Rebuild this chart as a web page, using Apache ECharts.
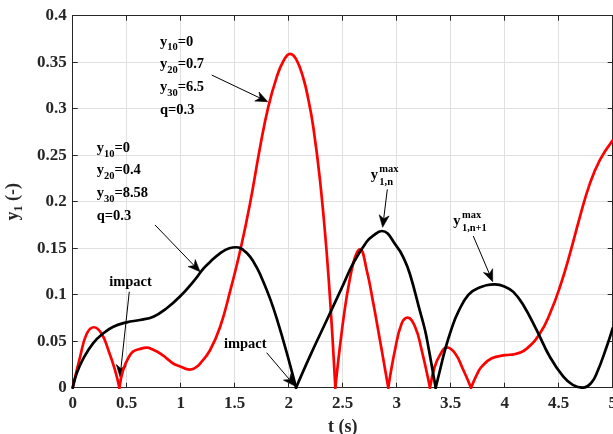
<!DOCTYPE html>
<html>
<head>
<meta charset="utf-8">
<script src="https://cdn.jsdelivr.net/npm/echarts@6/dist/echarts.min.js"></script>
<style>
  html, body { margin: 0; padding: 0; background: #ffffff; }
  #main { width: 613px; height: 434px; }
</style>
</head>
<body>
<div id="main"></div>
<script>
// Response y1(t) for two sets of initial conditions
const redT = [0, 0.068, 0.13, 0.197, 0.268, 0.33, 0.392, 0.432, 0.469, 0.52, 0.561, 0.62, 0.685, 0.75, 0.808, 0.87, 0.93, 1.0, 1.08, 1.13, 1.18, 1.27, 1.364, 1.456, 1.556, 1.642, 1.734, 1.811, 1.889, 1.95, 2.012, 2.07, 2.135, 2.18, 2.228, 2.29, 2.352, 2.398, 2.432, 2.475, 2.52, 2.56, 2.60, 2.635, 2.66, 2.722, 2.783, 2.845, 2.922, 2.984, 3.046, 3.101, 3.17, 3.231, 3.308, 3.35, 3.40, 3.463, 3.54, 3.617, 3.688, 3.75, 3.787, 3.88, 4.003, 4.09, 4.204, 4.327, 4.42, 4.512, 4.605, 4.697, 4.79, 4.882, 5.0];
const redY = [0, 0.033, 0.058, 0.065, 0.058, 0.0405, 0.019, 0, 0.02, 0.033, 0.039, 0.0416, 0.043, 0.0405, 0.037, 0.0316, 0.026, 0.0226, 0.0195, 0.021, 0.026, 0.040, 0.065, 0.103, 0.150, 0.198, 0.258, 0.302, 0.334, 0.351, 0.359, 0.353, 0.333, 0.311, 0.280, 0.223, 0.145, 0.068, 0, 0.045, 0.085, 0.113, 0.135, 0.146, 0.149, 0.1266, 0.091, 0.051, 0, 0.0405, 0.069, 0.0753, 0.0656, 0.0405, 0, 0.022, 0.035, 0.0434, 0.037, 0.019, 0, 0.016, 0.0226, 0.0316, 0.035, 0.036, 0.042, 0.0585, 0.08, 0.1086, 0.1445, 0.184, 0.22, 0.245, 0.266];
const redImpacts = [0.432, 2.432, 2.922, 3.308, 3.688];

const blackT = [0, 0.037, 0.099, 0.19, 0.284, 0.376, 0.5, 0.623, 0.747, 0.87, 0.993, 1.117, 1.21, 1.27, 1.364, 1.45, 1.518, 1.58, 1.642, 1.705, 1.765, 1.83, 1.889, 1.981, 2.068, 2.197, 2.352, 2.506, 2.598, 2.722, 2.783, 2.861, 3.0, 3.07, 3.123, 3.216, 3.262, 3.293, 3.361, 3.401, 3.447, 3.509, 3.571, 3.663, 3.756, 3.91, 4.003, 4.08, 4.172, 4.296, 4.419, 4.543, 4.63, 4.722, 4.80, 4.852, 4.944, 5.0];
const blackY = [0, 0.0155, 0.0316, 0.048, 0.0585, 0.0656, 0.0703, 0.0728, 0.0764, 0.0854, 0.098, 0.114, 0.128, 0.135, 0.1445, 0.150, 0.151, 0.148, 0.141, 0.129, 0.114, 0.095, 0.0745, 0.038, 0, 0.034, 0.0725, 0.111, 0.134, 0.157, 0.1635, 0.1685, 0.152, 0.138, 0.122, 0.082, 0.062, 0.044, 0, 0.019, 0.0405, 0.0638, 0.0817, 0.0997, 0.1072, 0.111, 0.1085, 0.103, 0.089, 0.062, 0.033, 0.0118, 0.003, 0, 0.005, 0.0155, 0.044, 0.064];
const blackImpacts = [2.068, 3.361];

// Axis ranges and tick steps
const xRange = [0, 5];
const xStep = 0.5;
const yRange = [0, 0.4];
const yStep = 0.05;

// Annotation texts (anchored in data coordinates)
const paramsA = { at: [0.808, 0.3841], lines: [['y', '10', '=0'], ['y', '20', '=0.7'], ['y', '30', '=6.5'], ['q=0.3']] };
const paramsB = { at: [0.222, 0.270], lines: [['y', '10', '=0'], ['y', '20', '=0.4'], ['y', '30', '=8.58'], ['q=0.3']] };
const impactLabels = [{ text: 'impact', at: [0.535, 0.1132] }, { text: 'impact', at: [1.598, 0.0471] }];
const maxLabels = [{ sup: 'max', sub: '1,n', at: [2.759, 0.2288] }, { sup: 'max', sub: '1,n+1', at: [3.524, 0.1794] }];
const arrows = [
  [[1.287, 0.3362], [1.806, 0.3075]],
  [[0.762, 0.175], [1.179, 0.1247]],
  [[0.524, 0.1032], [0.438, 0.0115]],
  [[1.796, 0.0376], [2.058, 0.0018]],
  [[2.913, 0.2133], [2.870, 0.1725]],
  [[3.709, 0.1631], [3.889, 0.114]]
];

const FONT = "'Liberation Serif', 'Times New Roman', serif";
const AXIS_COLOR = '#262626';
const GRID_COLOR = '#e0e0e0';

// Split a trace into arcs at its impact instants so each impact stays a sharp corner
function arcs(T, Y, cuts) {
  const out = [];
  let cur = [];
  T.forEach((t, i) => {
    cur.push([t, Y[i]]);
    if (cuts.indexOf(t) >= 0) { out.push(cur); cur = [[t, Y[i]]]; }
  });
  if (cur.length > 1) out.push(cur);
  return out;
}

function traceSeries(T, Y, cuts, color, z) {
  return arcs(T, Y, cuts).map(seg => ({
    type: 'line', data: seg, xAxisIndex: 0, yAxisIndex: 0,
    showSymbol: false, smooth: 0.45, clip: true, z,
    lineStyle: { color, width: 2.7, cap: 'round', join: 'round' }, itemStyle: { color }
  }));
}

const chart = echarts.init(document.getElementById('main'), null, { renderer: 'canvas' });

const tickLabel = { fontFamily: FONT, fontWeight: 'bold', fontSize: 17, color: AXIS_COLOR };
const nameStyle = {
  fontFamily: FONT, fontWeight: 'bold', fontSize: 18, color: AXIS_COLOR, lineHeight: 22,
  rich: { s: { fontFamily: FONT, fontWeight: 'bold', fontSize: 12, color: AXIS_COLOR, lineHeight: 10, verticalAlign: 'bottom' } }
};
const boxLine = { show: true, onZero: false, lineStyle: { color: AXIS_COLOR, width: 1 } };
const boxTick = { show: true, inside: true, length: 5, lineStyle: { color: AXIS_COLOR, width: 1 } };

chart.setOption({
  animation: false,
  backgroundColor: '#ffffff',
  grid: { left: 72.7, right: 0.3, top: 15.7, bottom: 46.3, outerBoundsMode: 'none', containLabel: false },
  xAxis: [
    {
      type: 'value', min: xRange[0], max: xRange[1], interval: xStep, position: 'bottom',
      axisLine: boxLine, axisTick: boxTick,
      axisLabel: Object.assign({ margin: 7, showMinLabel: true, showMaxLabel: true, hideOverlap: false }, tickLabel),
      splitLine: { show: true, lineStyle: { color: GRID_COLOR, width: 1 } },
      name: 't (s)', nameLocation: 'middle', nameGap: 25, nameTextStyle: nameStyle
    },
    {
      type: 'value', min: xRange[0], max: xRange[1], interval: xStep, position: 'top',
      axisLine: boxLine, axisTick: boxTick, axisLabel: { show: false }, splitLine: { show: false }
    }
  ],
  yAxis: [
    {
      type: 'value', min: yRange[0], max: yRange[1], interval: yStep, position: 'left',
      axisLine: boxLine, axisTick: boxTick,
      axisLabel: Object.assign({ margin: 6, showMinLabel: true, showMaxLabel: true, hideOverlap: false }, tickLabel),
      splitLine: { show: true, lineStyle: { color: GRID_COLOR, width: 1 } },
      name: 'y{s|1} (-)', nameLocation: 'middle', nameRotate: 90, nameGap: 48, nameTextStyle: nameStyle
    },
    {
      type: 'value', min: yRange[0], max: yRange[1], interval: yStep, position: 'right',
      axisLine: boxLine, axisTick: boxTick, axisLabel: { show: false }, splitLine: { show: false }
    }
  ],
  series: []
    .concat(traceSeries(redT, redY, redImpacts, '#ff0000', 3))
    .concat(traceSeries(blackT, blackY, blackImpacts, '#000000', 4))
});

const toPx = (p) => chart.convertToPixel({ xAxisIndex: 0, yAxisIndex: 0 }, p);

const textRich = {
  m: { fontFamily: FONT, fontWeight: 'bold', fontSize: 14.5, fill: '#000', lineHeight: 22.7 },
  s: { fontFamily: FONT, fontWeight: 'bold', fontSize: 10.5, fill: '#000', lineHeight: 10, verticalAlign: 'bottom' }
};

function paramBlock(block) {
  const p = toPx(block.at);
  const text = block.lines.map(l => l.length === 3 ? `{m|${l[0]}}{s|${l[1]}}{m|${l[2]}}` : `{m|${l[0]}}`).join('\n');
  return { type: 'text', x: p[0], y: p[1], z: 100, style: { text, rich: textRich, align: 'left', verticalAlign: 'top' } };
}

function plainText(item) {
  const p = toPx(item.at);
  return {
    type: 'text', x: p[0], y: p[1], z: 100,
    style: { text: item.text, fontFamily: FONT, fontWeight: 'bold', fontSize: 14.5, fill: '#000', align: 'center', verticalAlign: 'middle' }
  };
}

function maxLabel(item) {
  const p = toPx(item.at);
  const base = { fontFamily: FONT, fontWeight: 'bold', fill: '#000', align: 'left', verticalAlign: 'middle' };
  return {
    type: 'group', x: p[0], y: p[1], z: 100,
    children: [
      { type: 'text', x: 0, y: 0, style: Object.assign({ text: 'y', fontSize: 14.5 }, base) },
      { type: 'text', x: 8.6, y: -5.5, style: Object.assign({ text: item.sup, fontSize: 10.5 }, base) },
      { type: 'text', x: 8.6, y: 7.5, style: Object.assign({ text: item.sub, fontSize: 10.5 }, base) }
    ]
  };
}

function arrow(pair) {
  const a = toPx(pair[0]);
  const b = toPx(pair[1]);
  const dx = b[0] - a[0], dy = b[1] - a[1];
  const L = Math.hypot(dx, dy);
  const ux = dx / L, uy = dy / L, nx = -uy, ny = ux;
  const len = 12, hw = 5, notch = 8.5;
  const back = [b[0] - ux * len, b[1] - uy * len];
  const mid = [b[0] - ux * notch, b[1] - uy * notch];
  const left = [back[0] + nx * hw, back[1] + ny * hw];
  const right = [back[0] - nx * hw, back[1] - ny * hw];
  return {
    type: 'group', z: 100,
    children: [
      { type: 'line', shape: { x1: a[0], y1: a[1], x2: mid[0], y2: mid[1] }, style: { stroke: '#000', lineWidth: 1 } },
      { type: 'polygon', shape: { points: [b, left, mid, right] }, style: { fill: '#000', stroke: '#000', lineWidth: 0.6 } }
    ]
  };
}

const graphics = []
  .concat(arrows.map(arrow))
  .concat([paramBlock(paramsA), paramBlock(paramsB)])
  .concat(impactLabels.map(plainText))
  .concat(maxLabels.map(maxLabel));

chart.setOption({ graphic: graphics });
</script>
</body>
</html>
